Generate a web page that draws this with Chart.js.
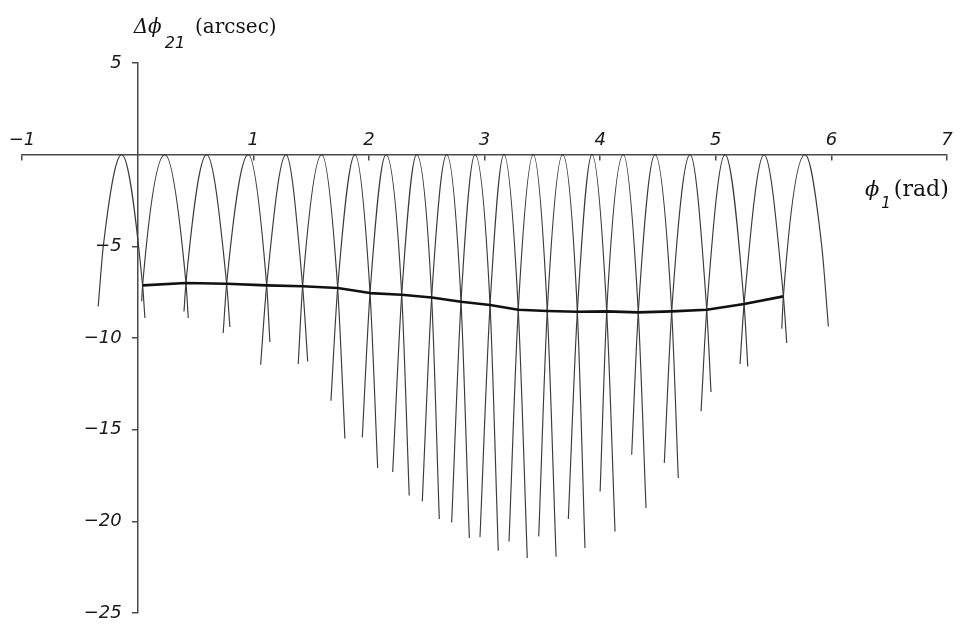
<!DOCTYPE html>
<html>
<head>
<meta charset="utf-8">
<script src="https://cdn.jsdelivr.net/npm/chart.js@4.4.1/dist/chart.umd.min.js"></script>
<style>
  html, body { margin: 0; padding: 0; background: #fff; }
  #wrap { width: 967px; height: 631px; position: relative; }
</style>
</head>
<body>
<div id="wrap"><canvas id="phaseChart"></canvas></div>
<script>
// apex of each arch (phi_1, rad) - all touch the zero line
const peakX = [-0.138, 0.236, 0.597, 0.957, 1.283, 1.592, 1.880, 2.148, 2.413, 2.673, 2.918,
               3.168, 3.422, 3.676, 3.930, 4.201, 4.475, 4.778, 5.080, 5.418, 5.772];
const peakY = [0, 0, 0, 0, 0, 0, 0, 0, 0, 0, 0, 0, 0, 0, 0, 0, 0, 0, 0, 0, 0];

// lower ends of the left and right branches of each arch
const leftEndX = [-0.341, 0.035, 0.401, 0.740, 1.064, 1.389, 1.672, 1.943, 2.206, 2.462, 2.716,
                  2.961, 3.212, 3.469, 3.725, 4.000, 4.273, 4.555, 4.873, 5.210, 5.571];
const leftEndY = [-8.28, -8.00, -8.55, -9.73, -11.46, -11.42, -13.42, -15.42, -17.31, -18.91, -20.06,
                  -20.86, -21.10, -20.82, -19.87, -18.37, -16.37, -16.82, -14.00, -11.42, -9.49];
const rightEndX = [0.063, 0.438, 0.798, 1.144, 1.471, 1.793, 2.076, 2.349, 2.609, 2.869, 3.119,
                   3.370, 3.619, 3.869, 4.129, 4.397, 4.676, 4.959, 5.277, 5.614, 5.974];
const rightEndY = [-8.91, -8.91, -9.40, -10.22, -11.28, -15.49, -17.09, -18.59, -19.87, -20.91, -21.60,
                   -22.00, -21.93, -21.46, -20.55, -19.27, -17.64, -12.95, -11.55, -10.27, -9.37];

// crossings of neighbouring arches = the bold curve
const crossX = [0.043, 0.418, 0.770, 1.116, 1.427, 1.730, 2.010, 2.284, 2.543, 2.797,
                3.048, 3.292, 3.543, 3.803, 4.057, 4.330, 4.619, 4.922, 5.245, 5.585];
const crossY = [-7.13, -7.00, -7.04, -7.13, -7.18, -7.27, -7.55, -7.64, -7.79, -8.02,
                -8.20, -8.46, -8.53, -8.57, -8.55, -8.60, -8.55, -8.46, -8.15, -7.73];

// outer branches of the first and last arch have no neighbour crossing
const firstArchOuter = [-0.297, -5.0];
const lastArchOuter = [5.917, -5.0];

const xTickValues = [-1, 0, 1, 2, 3, 4, 5, 6, 7];
const xTickLabels = ["\u22121", "", "1", "2", "3", "4", "5", "6", "7"];
const yTickValues = [5, 0, -5, -10, -15, -20, -25];
const yTickLabels = ["5", "", "\u22125", "\u221210", "\u221215", "\u221220", "\u221225"];

const axisColor = "#4a4a4a";
const tickFont = { family: "DejaVu Sans", style: "italic", size: 18 };

const archSets = peakX.map((p, i) => {
  const pts = [{ x: leftEndX[i], y: leftEndY[i] }];
  if (i === 0) pts.push({ x: firstArchOuter[0], y: firstArchOuter[1] });
  else pts.push({ x: crossX[i - 1], y: crossY[i - 1] });
  pts.push({ x: p, y: peakY[i] });
  if (i === peakX.length - 1) pts.push({ x: lastArchOuter[0], y: lastArchOuter[1] });
  else pts.push({ x: crossX[i], y: crossY[i] });
  pts.push({ x: rightEndX[i], y: rightEndY[i] });
  return {
    data: pts,
    borderColor: "#3a3a3a",
    borderWidth: 1.15,
    pointRadius: 0,
    cubicInterpolationMode: "monotone",
    order: 2
  };
});

const meanLine = {
  data: crossX.map((x, i) => ({ x, y: crossY[i] })),
  borderColor: "#111",
  borderWidth: 2.6,
  pointRadius: 0,
  tension: 0,
  borderJoinStyle: "round",
  order: 1
};

// y labels: chart.js puts them flush against a value-positioned axis, so draw them here
const axisText = {
  id: "axisText",
  afterDraw(chart) {
    const { ctx, chartArea, scales } = chart;
    const x0 = scales.x.getPixelForValue(0);
    const yTop = scales.y.getPixelForValue(5);
    const y0 = scales.y.getPixelForValue(0);
    ctx.save();
    ctx.fillStyle = "#1a1a1a";
    ctx.font = 'italic 18px "DejaVu Sans"';
    ctx.textAlign = "right";
    ctx.textBaseline = "middle";
    yTickValues.forEach((v, i) => {
      if (yTickLabels[i]) ctx.fillText(yTickLabels[i], x0 - 16, scales.y.getPixelForValue(v));
    });

    ctx.fillStyle = "#111";
    ctx.textBaseline = "alphabetic";
    ctx.textAlign = "left";

    // vertical axis title
    let x = x0 - 4;
    let base = yTop - 30;
    ctx.font = 'italic 20px "DejaVu Serif"';
    ctx.fillText("\u0394\u03d5", x, base);
    x += ctx.measureText("\u0394\u03d5").width + 3;
    ctx.font = 'italic 16px "DejaVu Sans"';
    ctx.fillText("21", x, base + 15);
    x += ctx.measureText("21").width + 10;
    ctx.font = '20px "DejaVu Serif"';
    ctx.fillText("(arcsec)", x, base);

    // horizontal axis title
    x = chartArea.right - 82;
    base = y0 + 41;
    ctx.font = 'italic 21px "DejaVu Serif"';
    ctx.fillText("\u03d5", x, base);
    x += ctx.measureText("\u03d5").width + 2;
    ctx.font = 'italic 15px "DejaVu Sans"';
    ctx.fillText("1", x, base + 12);
    x += ctx.measureText("1").width + 3;
    ctx.font = '22px "DejaVu Serif"';
    ctx.fillText("(rad)", x, base);
    ctx.restore();
  }
};

new Chart(document.getElementById("phaseChart"), {
  type: "line",
  data: { datasets: [meanLine, ...archSets] },
  options: {
    responsive: true,
    maintainAspectRatio: false,
    animation: false,
    layout: { padding: { left: 22, right: 20, top: 63, bottom: 18 } },
    plugins: { legend: { display: false }, tooltip: { enabled: false } },
    scales: {
      x: {
        type: "linear",
        min: -1,
        max: 7,
        position: { y: 0 },
        afterBuildTicks: (s) => { s.ticks = xTickValues.map(v => ({ value: v })); },
        border: { color: axisColor, width: 1.5 },
        grid: {
          drawOnChartArea: false,
          tickLength: 5,
          lineWidth: 1.5,
          color: (c) => (c.tick && c.tick.value === 0 ? "rgba(0,0,0,0)" : axisColor)
        },
        ticks: {
          autoSkip: false,
          maxRotation: 0,
          padding: -30,
          color: "#1a1a1a",
          font: tickFont,
          callback: (v) => xTickLabels[xTickValues.indexOf(v)]
        }
      },
      y: {
        type: "linear",
        min: -25,
        max: 5,
        position: { x: 0 },
        afterBuildTicks: (s) => { s.ticks = yTickValues.map(v => ({ value: v })); },
        border: { color: axisColor, width: 1.5 },
        grid: {
          drawOnChartArea: false,
          tickLength: 5,
          lineWidth: 1.5,
          color: (c) => (c.tick && c.tick.value === 0 ? "rgba(0,0,0,0)" : axisColor)
        },
        ticks: { display: false }
      }
    }
  },
  plugins: [axisText]
});
</script>
</body>
</html>
